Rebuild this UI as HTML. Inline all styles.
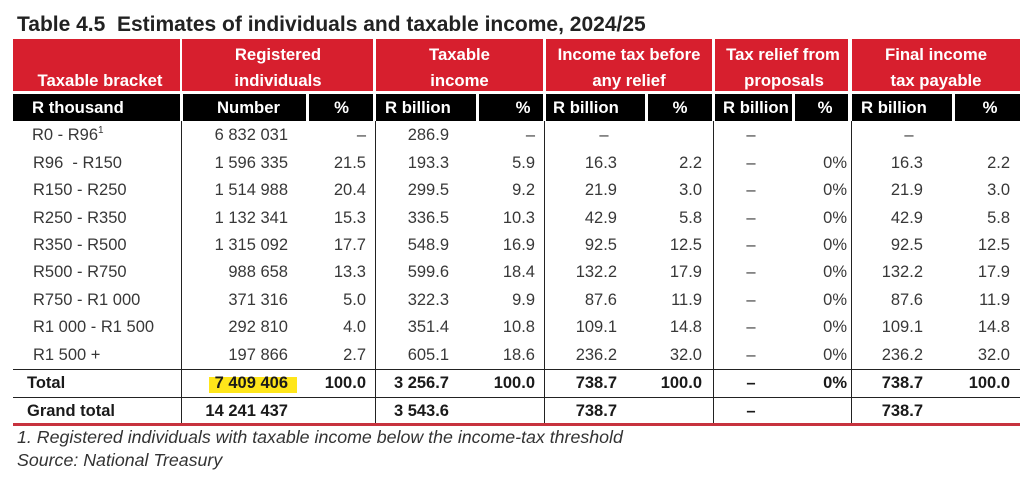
<!DOCTYPE html>
<html>
<head>
<meta charset="utf-8">
<style>
html,body{margin:0;padding:0;background:#fff;}
#w{position:relative;width:1024px;height:479px;overflow:hidden;background:#fff;font-family:"Liberation Sans",Arial,sans-serif;}
.title{position:absolute;left:17px;top:13px;height:24px;line-height:24px;font-size:21px;font-weight:bold;color:#222;white-space:pre;}
.red{position:absolute;top:39px;height:52px;background:#d71f2e;}
.blk{position:absolute;top:94px;height:27px;background:#000;}
.ht{position:absolute;width:200px;text-align:center;height:20px;line-height:20px;font-size:16.7px;font-weight:bold;color:#fff;white-space:pre;}
.bt{position:absolute;top:97.5px;height:20px;line-height:20px;font-size:16.7px;font-weight:bold;color:#fff;white-space:pre;}
.vl{position:absolute;top:121px;height:303px;width:1px;background:#222;}
.hl{position:absolute;left:13px;width:1007px;height:1px;background:#222;}
.row{position:absolute;left:0;width:1024px;height:20px;font-size:16.5px;color:#383838;}
.row span{position:absolute;top:0;height:20px;line-height:20px;white-space:pre;}
.row.bold{font-weight:bold;color:#1a1a1a;}
.a{left:33px}.a2{left:27px}
.b{right:736px}.c{right:658px}.d{right:575px}.e{right:489px}.f{right:407px}.g{right:322px}
.h{left:701px;width:100px;text-align:center}
.i{right:177px}.j{right:101px}.k{right:14px}
.itd{left:554px;width:100px;text-align:center}
.fd{left:859px;width:100px;text-align:center}
sup{font-size:10px;line-height:0;vertical-align:7px;}
.fn{position:absolute;left:17px;height:22px;line-height:22px;font-size:17.8px;font-style:italic;color:#333;white-space:pre;}
</style>
</head>
<body>
<div id="w">
<div class="title">Table 4.5  Estimates of individuals and taxable income, 2024/25</div>

<div class="red" style="left:13px;width:167px"></div>
<div class="red" style="left:182px;width:191px"></div>
<div class="red" style="left:376px;width:167px"></div>
<div class="red" style="left:546px;width:166px"></div>
<div class="red" style="left:715px;width:133px"></div>
<div class="red" style="left:852px;width:168px"></div>

<div class="ht" style="left:0px;top:70.5px">Taxable bracket</div>
<div class="ht" style="left:178px;top:44.5px">Registered</div>
<div class="ht" style="left:178px;top:70.5px">individuals</div>
<div class="ht" style="left:359.5px;top:44.5px">Taxable</div>
<div class="ht" style="left:359.5px;top:70.5px">income</div>
<div class="ht" style="left:529px;top:44.5px">Income tax before</div>
<div class="ht" style="left:529px;top:70.5px">any relief</div>
<div class="ht" style="left:683px;top:44.5px">Tax relief from</div>
<div class="ht" style="left:684px;top:70.5px">proposals</div>
<div class="ht" style="left:836px;top:44.5px">Final income</div>
<div class="ht" style="left:836px;top:70.5px">tax payable</div>

<div class="blk" style="left:13px;width:167px"></div>
<div class="blk" style="left:183px;width:123px"></div>
<div class="blk" style="left:309px;width:64px"></div>
<div class="blk" style="left:376px;width:100px"></div>
<div class="blk" style="left:479px;width:64px"></div>
<div class="blk" style="left:546px;width:99px"></div>
<div class="blk" style="left:648px;width:64px"></div>
<div class="blk" style="left:715px;width:77px"></div>
<div class="blk" style="left:795px;width:53px"></div>
<div class="blk" style="left:852px;width:100px"></div>
<div class="blk" style="left:955px;width:65px"></div>

<div class="bt" style="left:32px">R thousand</div>
<div class="bt" style="left:198.5px;width:100px;text-align:center">Number</div>
<div class="bt" style="left:291.5px;width:100px;text-align:center">%</div>
<div class="bt" style="left:385px">R billion</div>
<div class="bt" style="left:473px;width:100px;text-align:center">%</div>
<div class="bt" style="left:553px">R billion</div>
<div class="bt" style="left:630px;width:100px;text-align:center">%</div>
<div class="bt" style="left:723px">R billion</div>
<div class="bt" style="left:775px;width:100px;text-align:center">%</div>
<div class="bt" style="left:861px">R billion</div>
<div class="bt" style="left:940px;width:100px;text-align:center">%</div>

<div class="vl" style="left:181px"></div>
<div class="vl" style="left:375px"></div>
<div class="vl" style="left:544px"></div>
<div class="vl" style="left:713px"></div>
<div class="vl" style="left:851px"></div>

<div class="hl" style="top:369px"></div>
<div class="hl" style="top:397px"></div>
<div style="position:absolute;left:13px;top:423px;width:1007px;height:3px;background:#c7323e"></div>

<div style="position:absolute;left:209px;top:377px;width:88px;height:16px;background:#ffe61a"></div>

<div class="row" style="top:125px"><span style="left:32px">R0 - R96<sup>1</sup></span><span class="b">6 832 031</span><span class="c">–</span><span class="d">286.9</span><span class="e">–</span><span class="itd">–</span><span class="h">–</span><span class="fd">–</span></div>
<div class="row" style="top:152.5px"><span class="a">R96  - R150</span><span class="b">1 596 335</span><span class="c">21.5</span><span class="d">193.3</span><span class="e">5.9</span><span class="f">16.3</span><span class="g">2.2</span><span class="h">–</span><span class="i">0%</span><span class="j">16.3</span><span class="k">2.2</span></div>
<div class="row" style="top:180px"><span class="a">R150 - R250</span><span class="b">1 514 988</span><span class="c">20.4</span><span class="d">299.5</span><span class="e">9.2</span><span class="f">21.9</span><span class="g">3.0</span><span class="h">–</span><span class="i">0%</span><span class="j">21.9</span><span class="k">3.0</span></div>
<div class="row" style="top:207.5px"><span class="a">R250 - R350</span><span class="b">1 132 341</span><span class="c">15.3</span><span class="d">336.5</span><span class="e">10.3</span><span class="f">42.9</span><span class="g">5.8</span><span class="h">–</span><span class="i">0%</span><span class="j">42.9</span><span class="k">5.8</span></div>
<div class="row" style="top:235px"><span class="a">R350 - R500</span><span class="b">1 315 092</span><span class="c">17.7</span><span class="d">548.9</span><span class="e">16.9</span><span class="f">92.5</span><span class="g">12.5</span><span class="h">–</span><span class="i">0%</span><span class="j">92.5</span><span class="k">12.5</span></div>
<div class="row" style="top:262px"><span class="a">R500 - R750</span><span class="b">988 658</span><span class="c">13.3</span><span class="d">599.6</span><span class="e">18.4</span><span class="f">132.2</span><span class="g">17.9</span><span class="h">–</span><span class="i">0%</span><span class="j">132.2</span><span class="k">17.9</span></div>
<div class="row" style="top:289.5px"><span class="a">R750 - R1 000</span><span class="b">371 316</span><span class="c">5.0</span><span class="d">322.3</span><span class="e">9.9</span><span class="f">87.6</span><span class="g">11.9</span><span class="h">–</span><span class="i">0%</span><span class="j">87.6</span><span class="k">11.9</span></div>
<div class="row" style="top:317px"><span class="a">R1 000 - R1 500</span><span class="b">292 810</span><span class="c">4.0</span><span class="d">351.4</span><span class="e">10.8</span><span class="f">109.1</span><span class="g">14.8</span><span class="h">–</span><span class="i">0%</span><span class="j">109.1</span><span class="k">14.8</span></div>
<div class="row" style="top:344.5px"><span class="a">R1 500 +</span><span class="b">197 866</span><span class="c">2.7</span><span class="d">605.1</span><span class="e">18.6</span><span class="f">236.2</span><span class="g">32.0</span><span class="h">–</span><span class="i">0%</span><span class="j">236.2</span><span class="k">32.0</span></div>
<div class="row bold" style="top:373px"><span class="a2">Total</span><span class="b">7 409 406</span><span class="c">100.0</span><span class="d">3 256.7</span><span class="e">100.0</span><span class="f">738.7</span><span class="g">100.0</span><span class="h">–</span><span class="i">0%</span><span class="j">738.7</span><span class="k">100.0</span></div>
<div class="row bold" style="top:400.5px"><span class="a2">Grand total</span><span class="b">14 241 437</span><span class="d">3 543.6</span><span class="f">738.7</span><span class="h">–</span><span class="j">738.7</span></div>

<div class="fn" style="top:426px">1. Registered individuals with taxable income below the income-tax threshold</div>
<div class="fn" style="top:449px">Source: National Treasury</div>
</div>
</body>
</html>
